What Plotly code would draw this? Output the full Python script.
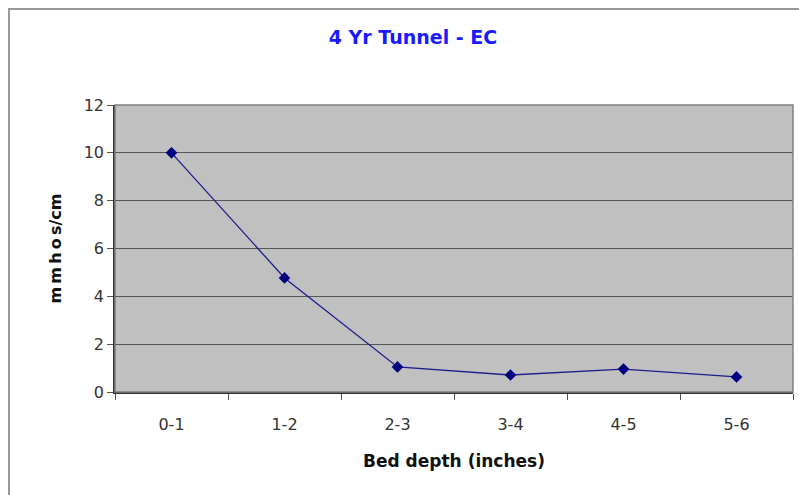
import plotly.graph_objects as go

depth_labels = ["0-1", "1-2", "2-3", "3-4", "4-5", "5-6"]
ec_values = [10.0, 4.77, 1.05, 0.71, 0.96, 0.63]
y_ticks = [0, 2, 4, 6, 8, 10, 12]

FONT = "DejaVu Sans, Liberation Sans, Arial, sans-serif"
L, R, T, B = 115, 6, 105, 103
PW, PH = 799 - L - R, 495 - T - B

fig = go.Figure()
fig.add_trace(
    go.Scatter(
        x=depth_labels,
        y=ec_values,
        mode="lines+markers",
        line=dict(color="#1c1c8c", width=1.3),
        marker=dict(symbol="diamond", size=9, color="#000080"),
        showlegend=False,
    )
)

# outer chart border
fig.add_shape(
    type="rect", xref="paper", yref="paper",
    x0=-(L - 9) / PW, x1=1.03, y0=-(B + 5) / PH, y1=1 + (T - 9) / PH,
    line=dict(color="#9a9a9a", width=2),
)

fig.update_layout(
    width=799,
    height=495,
    margin=dict(l=L, r=R, t=T, b=B),
    paper_bgcolor="white",
    plot_bgcolor="#c0c0c0",
    font=dict(family=FONT, size=16, color="#333333"),
    title=dict(
        text="<b>4 Yr Tunnel - EC</b>",
        x=(413 - L) / PW, xref="paper", xanchor="center",
        y=1 - 37 / 495, yref="container", yanchor="middle",
        font=dict(family=FONT, size=19, color="#1a1aff"),
    ),
)
fig.update_xaxes(
    type="category",
    range=[-0.5, 5.5],
    showgrid=False,
    showline=True, linecolor="#333333", linewidth=1.5,
    ticks="outside", ticklen=6, tickcolor="#555555",
    tickson="boundaries",
    ticklabelstandoff=17,
    tickfont=dict(size=16),
    automargin=False,
    title=dict(text="<b>Bed depth (inches)</b>", font=dict(size=17, color="#111111"), standoff=22),
)
fig.update_yaxes(
    range=[0, 12],
    tickvals=y_ticks,
    showgrid=True, gridcolor="#555555", gridwidth=1,
    showline=True, linecolor="#333333", linewidth=1.5,
    ticks="outside", ticklen=6, tickcolor="#555555",
    tickfont=dict(size=16),
    zeroline=False,
    automargin=False,
    title=dict(text="<b>m\u2009m\u2009h\u2009o\u2009s/cm</b>", font=dict(size=16, color="#111111"), standoff=18),
)
# right/top edge of plot area
fig.add_shape(
    type="rect", xref="paper", yref="paper", x0=0, x1=1, y0=0, y1=1,
    line=dict(color="#808080", width=1.5), layer="above",
)

fig.write_html(
    "out.html",
    config={"displayModeBar": False},
    post_script="document.body.style.margin='0px';",
)
